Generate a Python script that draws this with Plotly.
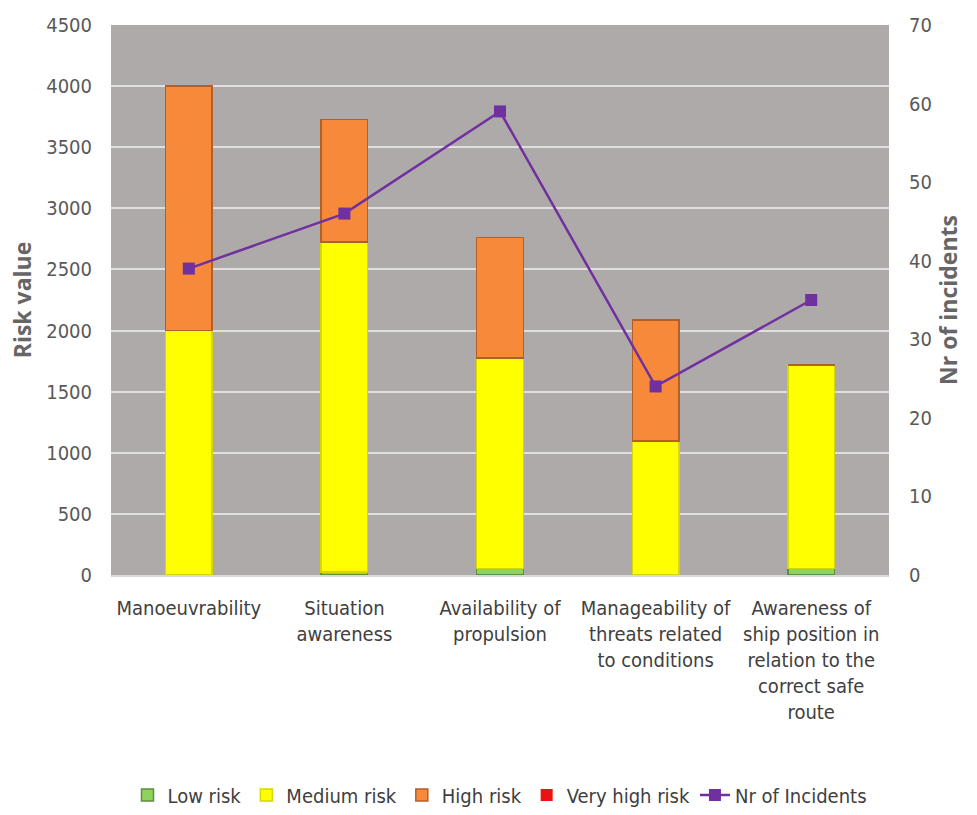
import plotly.graph_objects as go

categories = [
    "Manoeuvrability",
    "Situation<br>awareness",
    "Availability of<br>propulsion",
    "Manageability of<br>threats related<br>to conditions",
    "Awareness of<br>ship position in<br>relation to the<br>correct safe<br>route",
]
low_risk = [0, 25, 55, 0, 55]
medium_risk = [2000, 2700, 1720, 1095, 1665]
high_risk = [2000, 1000, 985, 990, 0]
very_high_risk = [0, 0, 0, 0, 0]
incidents = [39, 46, 59, 24, 35]

left_ticks = [0, 500, 1000, 1500, 2000, 2500, 3000, 3500, 4000, 4500]
right_ticks = [0, 10, 20, 30, 40, 50, 60, 70]

FONT = "DejaVu Sans Condensed, Liberation Sans, sans-serif"
TITLEFONT = "Open Sans, Liberation Sans, sans-serif"

fig = go.Figure()
fig.add_trace(go.Bar(x=categories, y=low_risk, name="Low risk",
                     marker=dict(color="#8fd35f", line=dict(color="#5e8f3c", width=1.5)), width=0.3))
fig.add_trace(go.Bar(x=categories, y=medium_risk, name="Medium risk",
                     marker=dict(color="#ffff00", line=dict(color="#d6d600", width=1.5)), width=0.3))
fig.add_trace(go.Bar(x=categories, y=high_risk, name="High risk",
                     marker=dict(color="#f68a3a", line=dict(color="#b55f28", width=1.5)), width=0.3))
fig.add_trace(go.Bar(x=categories, y=very_high_risk, name="Very high risk",
                     marker=dict(color="#ee1111", line=dict(width=0)), width=0.3))
fig.add_trace(go.Scatter(x=categories, y=incidents, name="Nr of Incidents", yaxis="y2",
                         mode="lines+markers",
                         line=dict(color="#7030a0", width=2.5),
                         marker=dict(symbol="square", size=12, color="#7030a0")))

fig.update_layout(
    width=977, height=815,
    barmode="stack",
    paper_bgcolor="white",
    plot_bgcolor="#aeaaaa",
    margin=dict(l=111, r=88, t=25, b=240, autoexpand=False),
    font=dict(family=FONT, color="#404040", size=20),
    xaxis=dict(
        tickfont=dict(family=FONT, size=20, color="#404040"),
        showline=True, linecolor="#d9d9d9", linewidth=2,
        ticks="", showgrid=False, automargin=False, ticklabelstandoff=14,
    ),
    yaxis=dict(
        range=[0, 4500], tickvals=left_ticks,
        tickfont=dict(family=FONT, size=20, color="#595959"),
        gridcolor="#e0e0e0", gridwidth=2, automargin=False,
        zeroline=False, ticks="", ticklen=0, ticklabelstandoff=18,
        title=dict(text="<b>Risk value</b>", font=dict(family=TITLEFONT, size=23, color="#666666"), standoff=8),
    ),
    yaxis2=dict(
        range=[0, 70], tickvals=right_ticks, overlaying="y", side="right",
        tickfont=dict(family=FONT, size=20, color="#595959"), automargin=False,
        showgrid=False, zeroline=False, ticklabelstandoff=19,
        title=dict(text="<b>Nr of incidents</b>", font=dict(family=TITLEFONT, size=23, color="#666666"), standoff=10),
    ),
    legend=dict(
        orientation="h", x=0.5, xanchor="center",
        y=-0.40, yanchor="middle",
        font=dict(family=FONT, size=20, color="#404040"),
        traceorder="normal", itemwidth=30,
    ),
)

fig.write_html("out.html")
